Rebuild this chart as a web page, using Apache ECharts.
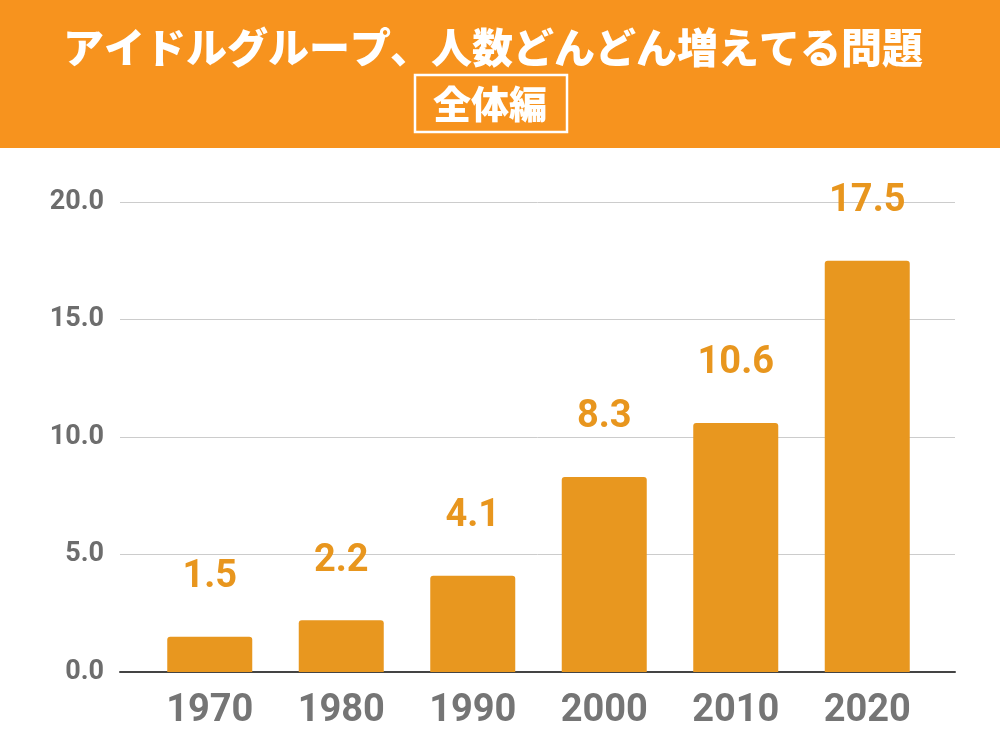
<!DOCTYPE html>
<html>
<head>
<meta charset="utf-8">
<script src="https://cdn.jsdelivr.net/npm/echarts@6/dist/echarts.min.js"></script>
<style>
  html, body { margin: 0; padding: 0; background: #fff; }
  #chart { width: 1000px; height: 750px; }
</style>
</head>
<body>
<div id="chart"></div>
<script>
// データ
const years = ['1970', '1980', '1990', '2000', '2010', '2020'];
const counts = [1.5, 2.2, 4.1, 8.3, 10.6, 17.5];
const yTicks = [0, 5, 10, 15, 20];

const titleText = 'アイドルグループ、人数どんどん増えてる問題';
const subText = '全体編';

const chart = echarts.init(document.getElementById('chart'));

const option = {
  animation: false,
  backgroundColor: '#fff',
  // ヘッダー部分
  graphic: [
    { type: 'rect', left: 0, top: 0, shape: { width: 1000, height: 148 }, style: { fill: '#F7931E' }, z: -1 },
    {
      type: 'text', x: 493, y: 47,
      style: {
        text: titleText, fill: '#fff', align: 'center', verticalAlign: 'middle',
        font: '900 41px "Noto Sans CJK JP"'
      }
    },
    {
      type: 'rect', x: 415, y: 75,
      shape: { width: 152, height: 57 },
      style: { fill: 'none', stroke: '#fff', lineWidth: 2.5 }
    },
    {
      type: 'text', x: 490, y: 104,
      style: {
        text: subText, fill: '#fff', align: 'center', verticalAlign: 'middle',
        font: '900 38px "Noto Sans CJK JP"'
      }
    }
  ],
  grid: [
    // 背景の目盛り線用
    { left: 120, right: 45, top: 202, bottom: 78 },
    // 棒グラフ用
    { left: 144, right: 67, top: 202, bottom: 78 }
  ],
  xAxis: [
    {
      type: 'category', gridIndex: 0, data: [''],
      axisLine: { show: true, lineStyle: { color: '#444', width: 2 } },
      axisTick: { show: false }, axisLabel: { show: false }
    },
    {
      type: 'category', gridIndex: 1, data: years,
      axisLine: { show: false }, axisTick: { show: false },
      axisLabel: {
        margin: 20, color: '#757575', fontSize: 38, fontWeight: 'bold',
        fontFamily: 'Roboto'
      }
    }
  ],
  yAxis: [
    {
      type: 'value', gridIndex: 0, min: yTicks[0], max: yTicks[yTicks.length - 1], interval: 5,
      axisLine: { show: false }, axisTick: { show: false },
      splitLine: { lineStyle: { color: '#cccccc', width: 1 } },
      axisLabel: {
        margin: 16, color: '#6d6d6d', fontSize: 27, fontWeight: 'bold',
        fontFamily: 'Roboto', formatter: v => v.toFixed(1)
      }
    },
    {
      type: 'value', gridIndex: 1, min: yTicks[0], max: yTicks[yTicks.length - 1], interval: 5,
      show: false, splitLine: { show: false }
    }
  ],
  series: [
    {
      type: 'bar', xAxisIndex: 1, yAxisIndex: 1,
      data: counts, barWidth: 85, z: 3,
      itemStyle: { color: '#E8971F', borderRadius: [3, 3, 0, 0] },
      label: {
        show: true, position: 'top', distance: 40,
        color: '#E8961E', fontSize: 38, fontWeight: 'bold', fontFamily: 'Roboto',
        formatter: p => p.value.toFixed(1)
      }
    }
  ]
};

chart.setOption(option);
window.addEventListener('resize', () => chart.resize());
</script>
</body>
</html>
